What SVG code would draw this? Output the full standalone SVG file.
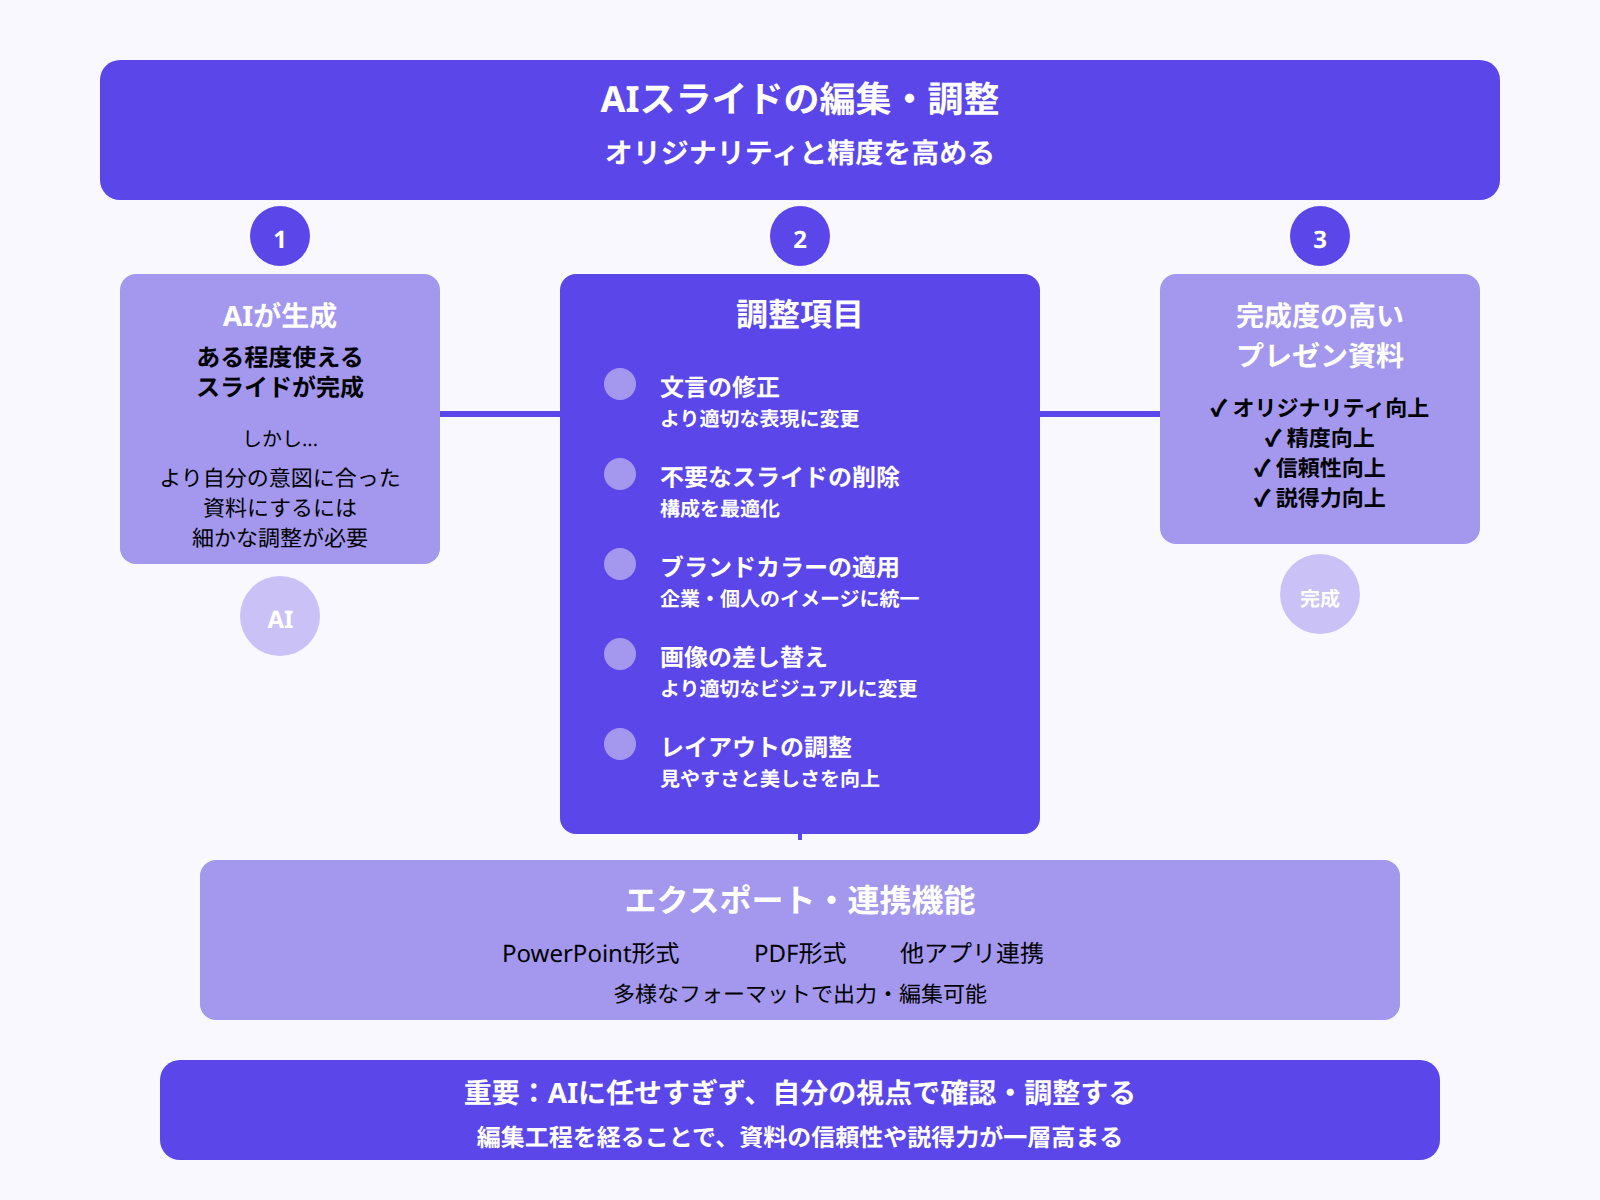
<svg xmlns="http://www.w3.org/2000/svg" width="1600" height="1200" viewBox="0 0 1600 1200">
<style>
text{font-family:"Noto Sans","Noto Sans CJK JP",sans-serif;text-anchor:middle;text-rendering:geometricPrecision}
.p{fill:#5b46ea}.l{fill:#a398ee}.d{fill:#a398ee}.c{fill:#cac1f6}
.w{fill:#fff}.k{fill:#000}.b{font-weight:700}.s{text-anchor:start}
.line{stroke:#5b46ea;fill:none}
.m{stroke:#000;stroke-width:.7}
</style>
<rect width="1600" height="1200" fill="#f9f8ff"/>
<g id="connectors">
<path class="line" stroke-width="6" d="M440 414H560M1040 414H1160"/>
<path class="line" stroke-width="4" d="M800 834V840"/>
</g>
<g id="header"><rect class="p" x="100" y="60" width="1400" height="140" rx="20"/>
<text class="w b" x="800" y="112" font-size="36">AIスライドの編集・調整</text>
<text class="w b" x="800" y="163" font-size="28">オリジナリティと精度を高める</text></g>
<g id="badge1"><circle class="p" cx="280" cy="236" r="30"/><text class="w b" x="280" y="248" font-size="24">1</text></g>
<g id="badge2"><circle class="p" cx="800" cy="236" r="30"/><text class="w b" x="800" y="248" font-size="24">2</text></g>
<g id="badge3"><circle class="p" cx="1320" cy="236" r="30"/><text class="w b" x="1320" y="248" font-size="24">3</text></g>
<g id="card1"><rect class="l" x="120" y="274" width="320" height="290" rx="16"/>
<text class="w b" x="280" y="326" font-size="28">AIが生成</text>
<text class="k b" x="280" y="366" font-size="24">ある程度使える</text>
<text class="k b" x="280" y="396" font-size="24">スライドが完成</text>
<text class="k" x="280" y="446" font-size="20">しかし...</text>
<text class="k" x="280" y="486" font-size="22">より自分の意図に合った</text>
<text class="k" x="280" y="516" font-size="22">資料にするには</text>
<text class="k" x="280" y="546" font-size="22">細かな調整が必要</text></g>
<g id="card1-icon"><circle class="c" cx="280" cy="616" r="40"/><text class="w b" x="280.5" y="628" font-size="24">AI</text></g>
<g id="card2"><rect class="p" x="560" y="274" width="480" height="560" rx="16"/>
<text class="w b" x="800" y="326" font-size="32">調整項目</text>
<circle class="d" cx="620" cy="384" r="16"/><text class="w b s" x="660" y="396" font-size="24">文言の修正</text><text class="w b s" x="660" y="426" font-size="20">より適切な表現に変更</text>
<circle class="d" cx="620" cy="474" r="16"/><text class="w b s" x="660" y="486" font-size="24">不要なスライドの削除</text><text class="w b s" x="660" y="516" font-size="20">構成を最適化</text>
<circle class="d" cx="620" cy="564" r="16"/><text class="w b s" x="660" y="576" font-size="24">ブランドカラーの適用</text><text class="w b s" x="660" y="606" font-size="20">企業・個人のイメージに統一</text>
<circle class="d" cx="620" cy="654" r="16"/><text class="w b s" x="660" y="666" font-size="24">画像の差し替え</text><text class="w b s" x="660" y="696" font-size="20">より適切なビジュアルに変更</text>
<circle class="d" cx="620" cy="744" r="16"/><text class="w b s" x="660" y="756" font-size="24">レイアウトの調整</text><text class="w b s" x="660" y="786" font-size="20">見やすさと美しさを向上</text></g>
<g id="card3"><rect class="l" x="1160" y="274" width="320" height="270" rx="16"/>
<text class="w b" x="1320" y="326" font-size="28">完成度の高い</text>
<text class="w b" x="1320" y="366" font-size="28">プレゼン資料</text>
<text class="k b" x="1320" y="416" font-size="22"><tspan class="m">✓</tspan> オリジナリティ向上</text>
<text class="k b" x="1320" y="446" font-size="22"><tspan class="m">✓</tspan> 精度向上</text>
<text class="k b" x="1320" y="476" font-size="22"><tspan class="m">✓</tspan> 信頼性向上</text>
<text class="k b" x="1320" y="506" font-size="22"><tspan class="m">✓</tspan> 説得力向上</text></g>
<g id="card3-icon"><circle class="c" cx="1320" cy="594" r="40"/><text class="w b" x="1320" y="606" font-size="20">完成</text></g>
<g id="export"><rect class="l" x="200" y="860" width="1200" height="160" rx="16"/>
<text class="w b" x="800" y="912" font-size="32">エクスポート・連携機能</text>
<text class="k s" x="502" y="962" font-size="24">PowerPoint形式</text>
<text class="k s" x="754" y="962" font-size="24">PDF形式</text>
<text class="k s" x="900" y="962" font-size="24">他アプリ連携</text>
<text class="k" x="800" y="1002" font-size="22">多様なフォーマットで出力・編集可能</text></g>
<g id="note"><rect class="p" x="160" y="1060" width="1280" height="100" rx="20"/>
<text class="w b" x="800" y="1103" font-size="28">重要：AIに任せすぎず、自分の視点で確認・調整する</text>
<text class="w b" x="800" y="1146" font-size="24">編集工程を経ることで、資料の信頼性や説得力が一層高まる</text></g>
</svg>
